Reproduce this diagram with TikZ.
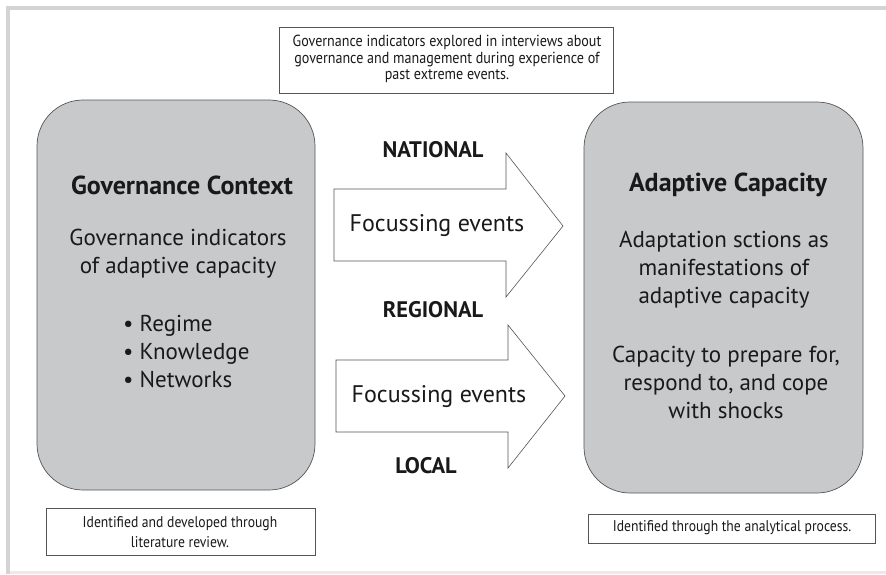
\documentclass[tikz,border=0pt]{standalone}
\usepackage{fontspec}
\setmainfont{PT Sans}
\newfontfamily\condfont[FakeStretch=0.88]{PT Sans}
\definecolor{boxgray}{HTML}{C8C9CB}
\definecolor{edgegray}{HTML}{555555}
\definecolor{framegray}{HTML}{D4D4D4}
\begin{document}
\begin{tikzpicture}[x=1pt,y=-1pt,
  bigbox/.style={draw=edgegray, fill=boxgray, line width=0.7pt, rounded corners=46pt},
  notebox/.style={draw=edgegray, fill=white, line width=0.7pt},
  arrowshape/.style={draw=edgegray, fill=white, line width=0.6pt, line join=miter},
  condtext/.style={font=\condfont\fontsize{16}{16.5}\selectfont, align=center, inner sep=0pt, text=black!90},
  smallcond/.style={font=\condfont\fontsize{15.5}{20}\selectfont, align=center, inner sep=0pt, text=black!90},
  bodytext/.style={font=\fontsize{23}{28}\selectfont, align=center, inner sep=0pt, text=black!90},
  eventtext/.style={font=\fontsize{24}{28}\selectfont, inner sep=0pt, text=black!90},
  titletext/.style={font=\bfseries\fontsize{26}{30}\selectfont, inner sep=0pt, text=black!90},
  leveltext/.style={font=\bfseries\fontsize{22.5}{26}\selectfont, inner sep=0pt, text=black!90}]
\useasboundingbox (0,0) rectangle (886,574);
% frame
\fill[framegray] (6,6) rectangle (886,10);
\fill[framegray] (6,6) rectangle (10,574);
\fill[framegray!50] (10,571) rectangle (886,574);
% top note
\draw[notebox] (279,27) rectangle (613,93);
\node[condtext] (topnote) at (447,59) {Governance indicators explored in interviews about\\governance and management during experience of\\past extreme events.};
% big boxes
\draw[bigbox] (37,100) rectangle (315,490);
\draw[bigbox] (584,102) rectangle (863,493);
% left box text
\node[titletext] (gctitle) at (182,185) {Governance Context};
\node[bodytext] (gcind) at (178,254) {Governance indicators\\of adaptive capacity};
\node[bodytext, align=left, anchor=west] (gclist) at (123,351) {• Regime\\• Knowledge\\• Networks};
% right box text
\node[titletext] (actitle) at (728,185) {Adaptive Capacity};
\node[bodytext] (acman) at (724,270) {Adaptation sctions as\\manifestations of\\adaptive capacity};
\node[bodytext] (acprep) at (726,382) {Capacity to prepare for,\\respond to, and cope\\with shocks};
% arrows
\draw[arrowshape] (334,189) -- (506,189) -- (506,153) -- (563,226) -- (506,297) -- (506,261) -- (334,261) -- cycle;
\node[eventtext] (fe1) at (437,226) {Focussing events};
\draw[arrowshape] (336,360) -- (508,360) -- (508,325) -- (565,396) -- (508,468) -- (508,432) -- (336,432) -- cycle;
\node[eventtext] (fe2) at (439,397) {Focussing events};
% level labels
\node[leveltext] (national) at (433,150) {NATIONAL};
\node[leveltext] (regional) at (433,310) {REGIONAL};
\node[leveltext] (local) at (426,466) {LOCAL};
% bottom notes
\draw[notebox] (46,508) rectangle (315,555);
\node[smallcond] (litnote) at (180,532) {Identified and developed through\\literature review.};
\draw[notebox] (588,514) rectangle (875,543);
\node[smallcond] (anote) at (732,528) {Identified through the analytical process.};
\end{tikzpicture}
\end{document}
